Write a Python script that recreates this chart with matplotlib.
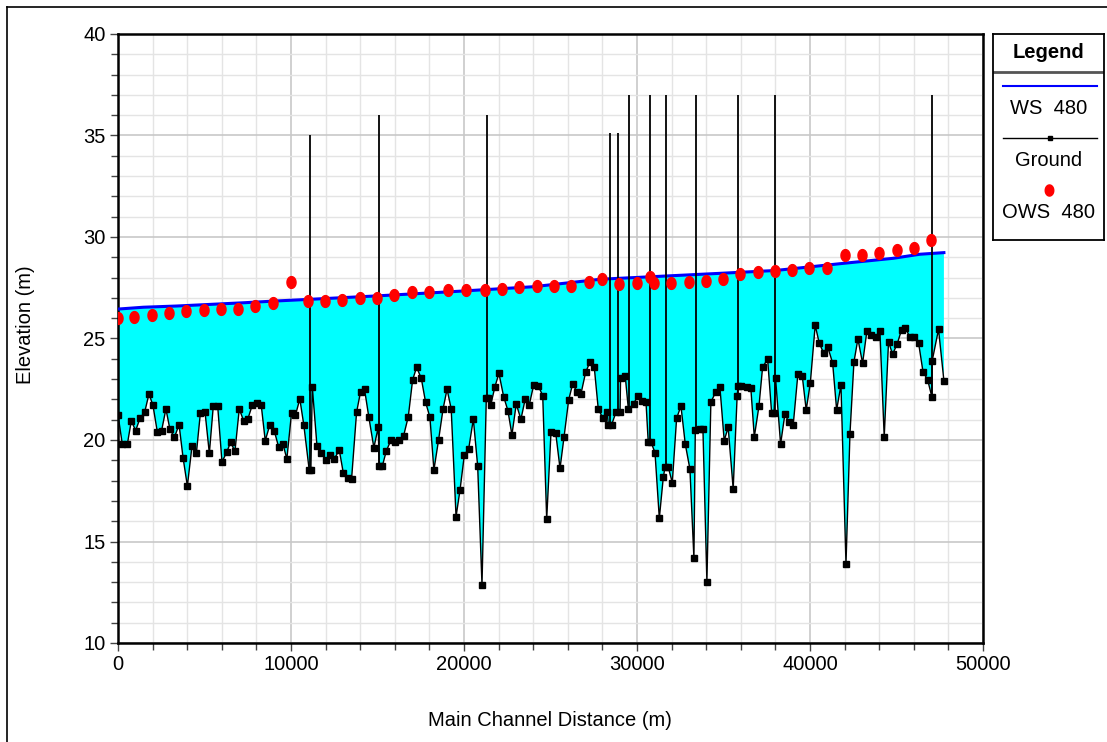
import numpy as np
import matplotlib
matplotlib.use("Agg")
import matplotlib.pyplot as plt
from matplotlib.lines import Line2D
from matplotlib.path import Path
from matplotlib.ticker import MultipleLocator

plt.rcParams["font.family"] = ["Liberation Sans", "DejaVu Sans"]

# ground profile (station m, elevation m)
ground_x = [0, 250, 540, 770, 1020, 1270, 1540, 1790, 2020, 2270, 2520, 2770, 3000, 3260, 3530,
            3760, 4010, 4280, 4530, 4760, 5030, 5280, 5510, 5760, 6010, 6280, 6510, 6760, 7010,
            7260, 7510, 7760, 8010, 8280, 8510, 8780, 9030, 9280, 9530, 9760, 10030, 10260, 10510,
            10740, 11050, 11150, 11230, 11500, 11750, 12020, 12250, 12500, 12790, 13020, 13270,
            13500, 13790, 14020, 14250, 14500, 14790, 15040, 15100, 15280, 15510, 15780, 16030,
            16260, 16510, 16780, 17030, 17260, 17530, 17780, 18030, 18260, 18530, 18790, 19020,
            19260, 19540, 19770, 20020, 20270, 20540, 20790, 21040, 21290, 21400, 21540, 21790,
            22020, 22290, 22540, 22770, 23020, 23290, 23540, 23770, 24030, 24290, 24550, 24780,
            25030, 25300, 25550, 25780, 26050, 26280, 26550, 26760, 27030, 27280, 27530, 27760,
            28030, 28280, 28340, 28530, 28780, 29020, 29050, 29320, 29500, 29800, 30040, 30290,
            30520, 30650, 30810, 31040, 31290, 31520, 31620, 31810, 32040, 32290, 32540, 32790,
            33060, 33290, 33370, 33620, 33810, 34040, 34270, 34540, 34790, 35040, 35270, 35560,
            35790, 35850, 36040, 36330, 36580, 36780, 37050, 37260, 37550, 37780, 37920, 38010,
            38300, 38550, 38780, 39030, 39300, 39550, 39780, 40020, 40300, 40530, 40790, 41020,
            41310, 41540, 41790, 42080, 42310, 42540, 42770, 43040, 43290, 43540, 43790, 44040,
            44290, 44540, 44770, 45040, 45290, 45520, 45780, 46030, 46280, 46530, 46800, 47040,
            47060, 47430, 47740]
ground_z = [21.23, 19.79, 19.79, 20.95, 20.46, 21.07, 21.36, 22.27, 21.71, 20.41, 20.46, 21.53,
            20.53, 20.13, 20.75, 19.13, 17.73, 19.72, 19.34, 21.31, 21.38, 19.34, 21.69, 21.69,
            18.92, 19.39, 19.89, 19.44, 21.53, 20.95, 21.05, 21.71, 21.82, 21.71, 19.97, 20.75,
            20.46, 19.67, 19.82, 19.06, 21.33, 21.23, 22.02, 20.74, 18.54, 18.54, 22.63, 19.72,
            19.38, 19.02, 19.26, 19.06, 19.51, 18.39, 18.11, 18.06, 21.36, 22.38, 22.50, 21.12,
            19.62, 20.62, 18.72, 18.72, 19.46, 20.00, 19.92, 20.00, 20.21, 21.15, 22.96, 23.58,
            23.04, 21.86, 21.12, 18.52, 20.00, 21.53, 22.50, 21.53, 16.22, 17.54, 19.26, 19.56,
            21.03, 18.72, 12.86, 22.09, 22.09, 21.71, 22.63, 23.28, 22.14, 21.44, 20.25, 21.77,
            21.02, 22.02, 21.72, 22.72, 22.67, 22.19, 16.09, 20.41, 20.36, 18.60, 20.13, 21.97,
            22.76, 22.35, 22.27, 23.33, 23.84, 23.58, 21.53, 21.07, 21.36, 20.74, 20.74, 21.36,
            21.36, 23.04, 23.15, 21.53, 21.76, 22.19, 21.94, 21.86, 19.89, 19.89, 19.38, 16.14,
            18.16, 18.65, 18.65, 17.90, 21.07, 21.67, 19.80, 18.56, 14.17, 20.49, 20.52, 20.56,
            13.02, 21.86, 22.35, 22.63, 19.97, 20.62, 17.59, 22.19, 22.68, 22.68, 22.60, 22.55,
            20.15, 21.67, 23.58, 23.99, 21.35, 21.35, 23.04, 19.79, 21.28, 20.87, 20.74, 23.25,
            23.17, 21.48, 22.82, 25.65, 24.79, 24.27, 24.60, 23.78, 21.48, 22.71, 13.89, 20.30,
            23.84, 24.98, 23.78, 25.38, 25.16, 25.09, 25.37, 20.15, 24.85, 24.22, 24.73, 25.42,
            25.50, 25.06, 25.06, 24.76, 23.37, 22.96, 22.14, 23.89, 25.45, 22.92]

# computed water surface WS 480
ws_x = [0, 1460, 3390, 5320, 7250, 9170, 11100, 12250, 15000, 19360, 24000, 27900, 31000,
        34790, 38000, 41900, 44800, 46350, 47740]
ws_z = [26.45, 26.54, 26.60, 26.68, 26.76, 26.85, 26.93, 26.98, 27.10, 27.31, 27.55, 27.92,
        28.05, 28.21, 28.35, 28.70, 28.95, 29.15, 29.23]

# observed water surface OWS 480
ows_x = [0, 940, 1950, 2950, 3950, 4950, 5950, 6940, 7940, 8980, 9980, 10960, 11960, 12960,
         13970, 14970, 15970, 16970, 17970, 19100, 20100, 21200, 22200, 23200, 24200, 25200,
         26200, 27200, 27990, 28970, 29980, 30750, 31000, 31980, 32990, 33990, 34960, 35970,
         36970, 37970, 38970, 39960, 40960, 42000, 43000, 44000, 45000, 46000, 47000]
ows_z = [26.03, 26.08, 26.14, 26.24, 26.35, 26.40, 26.47, 26.45, 26.62, 26.73, 27.80, 26.83,
         26.85, 26.90, 26.98, 26.98, 27.16, 27.31, 27.31, 27.37, 27.37, 27.37, 27.42, 27.52,
         27.57, 27.59, 27.59, 27.80, 27.92, 27.68, 27.75, 28.01, 27.71, 27.75, 27.80, 27.85,
         27.95, 28.18, 28.29, 28.34, 28.37, 28.49, 28.49, 29.13, 29.13, 29.23, 29.38, 29.44, 29.87]

# structures drawn as vertical lines (station, ground, top)
struct_x = [11100, 15090, 21350, 28440, 28920, 29520, 30770, 31670, 33430, 35820, 37960, 47070]
struct_lo = [18.54, 18.72, 22.09, 20.74, 21.36, 21.53, 19.89, 18.65, 20.49, 22.19, 21.35, 22.14]
struct_hi = [35.0, 36.0, 36.0, 35.1, 35.1, 37.0, 37.0, 37.0, 37.0, 37.0, 37.0, 37.0]

FS = 14.5

# slightly tall dot, like the reference
t = np.linspace(0, 2 * np.pi, 40)
oval = Path(np.column_stack([np.cos(t) / 1.3, np.sin(t)]), closed=True)

W, H = 1107, 742
fig = plt.figure(figsize=(W / 100, H / 100), dpi=100)
ax = fig.add_axes([118 / W, 1 - 643 / H, 865 / W, 609 / H])

poly_x = list(ws_x) + ground_x[::-1]
poly_z = list(ws_z) + ground_z[::-1]
ax.fill(poly_x, poly_z, color="#00FFFF", lw=0, zorder=2)
ax.plot(ws_x, ws_z, color="#0000FF", lw=2.2, zorder=3)
ax.plot(ground_x, ground_z, color="black", lw=1, marker="s", ms=3.8, zorder=4)
ax.vlines(struct_x, struct_lo, struct_hi, color="black", lw=1.3, zorder=4)
ax.plot(ows_x, ows_z, ls="none", marker=oval, color="red", ms=8.5, mec="red", zorder=5)

ax.set_xlim(0, 50000)
ax.set_ylim(10, 40)
ax.xaxis.set_major_locator(MultipleLocator(10000))
ax.xaxis.set_minor_locator(MultipleLocator(2000))
ax.yaxis.set_major_locator(MultipleLocator(5))
ax.yaxis.set_minor_locator(MultipleLocator(1))
ax.grid(which="minor", color="#e4e4e4", lw=1, zorder=0)
ax.grid(which="major", color="#c8c8c8", lw=1.2, zorder=0)
ax.set_axisbelow(True)
ax.tick_params(which="major", length=6, width=1, labelsize=FS, color="#444444", pad=3)
ax.tick_params(which="minor", length=5, width=1, color="#444444")
for s in ax.spines.values():
    s.set_linewidth(1.8)
ax.set_xlabel("Main Channel Distance (m)", fontsize=FS)
ax.set_ylabel("Elevation (m)", fontsize=FS)
ax.xaxis.set_label_coords(0.4994, -0.112)
ax.yaxis.set_label_coords(-0.0954, 0.522)

# legend panel
lax = fig.add_axes([993 / W, 1 - 240 / H, 111 / W, 206 / H])
lax.set_xlim(993, 1104)
lax.set_ylim(240, 34)
lax.set_xticks([])
lax.set_yticks([])
for s in lax.spines.values():
    s.set_linewidth(1.3)
lax.text(1048, 52, "Legend", ha="center", va="center", fontsize=FS, fontweight="bold")
lax.axhline(72, color="#555555", lw=2)
lax.plot([1003, 1097], [86, 86], color="#0000FF", lw=1.5)
lax.text(1049, 109, "WS  480", ha="center", va="center", fontsize=FS)
lax.plot([1003, 1097], [138, 138], color="black", lw=1)
lax.plot([1050], [138], marker="s", color="black", ms=3)
lax.text(1049, 161, "Ground", ha="center", va="center", fontsize=FS)
lax.plot([1049], [190], marker=oval, color="red", ms=8)
lax.text(1049, 213, "OWS  480", ha="center", va="center", fontsize=FS)

# outer frame
fig.add_artist(Line2D([7 / W, 1], [1 - 7 / H, 1 - 7 / H], color="black", lw=1.2))
fig.add_artist(Line2D([7 / W, 7 / W], [0, 1 - 7 / H], color="black", lw=1.2))

fig.savefig("out.png", dpi=100)
